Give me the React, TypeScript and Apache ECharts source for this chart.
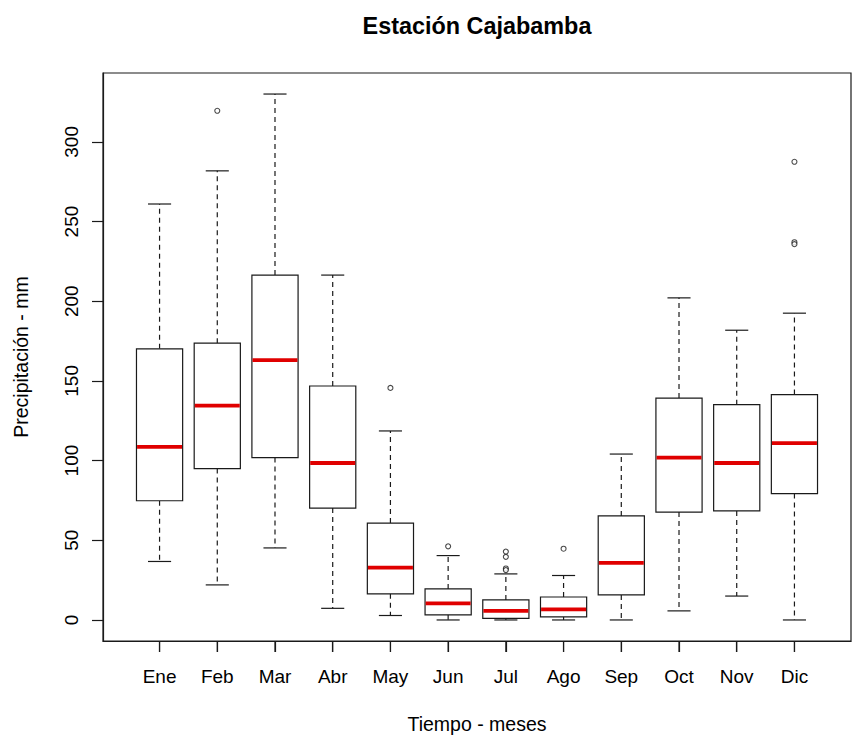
import React, { useEffect, useRef } from 'react';
import * as echarts from 'echarts';

const months = ['Ene', 'Feb', 'Mar', 'Abr', 'May', 'Jun', 'Jul', 'Ago', 'Sep', 'Oct', 'Nov', 'Dic'];
const whiskerLow = [36.7, 22.0, 45.2, 7.3, 2.8, 0, 0, 0, 0, 5.7, 15.0, 0];
const q1 = [74.8, 95.0, 101.9, 70.2, 16.4, 3.2, 1.0, 1.9, 15.7, 67.7, 68.4, 79.3];
const median = [108.6, 134.5, 163.0, 98.5, 32.9, 10.4, 5.7, 6.6, 35.8, 101.9, 98.5, 111.0];
const q3 = [170.1, 173.7, 216.4, 146.8, 60.8, 19.5, 12.6, 14.4, 65.3, 139.2, 135.1, 141.4];
const whiskerHigh = [261.0, 281.8, 330.0, 216.4, 118.6, 40.4, 28.9, 27.9, 104.1, 202.1, 181.8, 192.5];

const outlierMonth = [2, 5, 6, 7, 7, 7, 7, 8, 12, 12, 12];
const outlierValue = [319.5, 145.6, 46.2, 42.9, 39.6, 32.3, 31.3, 44.7, 287.5, 237.0, 235.8];

const yTicks = [0, 50, 100, 150, 200, 250, 300];
const xTicks = [1, 2, 3, 4, 5, 6, 7, 8, 9, 10, 11, 12];
const Y_MIN = -13.2;
const Y_MAX = 343.2;

const FONT = 'Liberation Sans, Arial, sans-serif';

export default function App() {
  const ref = useRef<HTMLDivElement>(null);
  useEffect(() => {
    const chart = echarts.init(ref.current as HTMLDivElement, null, { renderer: 'svg' });
    const boxData = months.map((_, i) => [i + 1, whiskerLow[i], q1[i], median[i], q3[i], whiskerHigh[i]]);
    const outlierData = outlierMonth.map((m, i) => [m, outlierValue[i]]);
    const stroke = '#1a1a1a';
    const titleGraphic = {
      type: 'text',
      id: 'title',
      x: 477,
      y: 26,
      z: 100,
      style: {
        text: 'Estación Cajabamba',
        align: 'center',
        verticalAlign: 'middle',
        fontFamily: FONT,
        fontWeight: 'bold',
        fontSize: 23.4,
        fill: '#000',
      },
    };
    chart.setOption({
      animation: false,
      textStyle: { fontFamily: FONT },
      graphic: [titleGraphic],
      grid: {
        left: 103,
        right: 2,
        top: 73,
        bottom: 97,
        show: true,
        borderColor: stroke,
        borderWidth: 1.2,
        containLabel: false,
        outerBoundsMode: 'none',
      },
      xAxis: {
        type: 'value',
        min: 0.02,
        max: 12.98,
        z: 50,
        name: 'Tiempo - meses',
        nameLocation: 'middle',
        nameGap: 73,
        nameTextStyle: { fontFamily: FONT, fontSize: 19.5, color: '#000' },
        axisLine: { show: true, onZero: false, lineStyle: { color: stroke, width: 1.2 } },
        splitLine: { show: false },
        axisTick: { show: true, length: 11, customValues: xTicks, lineStyle: { color: stroke, width: 1.2 } },
        axisLabel: {
          show: true,
          customValues: xTicks,
          margin: 26,
          fontFamily: FONT,
          fontSize: 19,
          color: '#000',
          formatter: (v: number) => months[Math.round(v) - 1] ?? '',
        },
      },
      yAxis: {
        type: 'value',
        min: Y_MIN,
        max: Y_MAX,
        name: 'Precipitación - mm',
        nameLocation: 'middle',
        nameGap: 72,
        nameTextStyle: { fontFamily: FONT, fontSize: 19.5, color: '#000' },
        axisLine: { show: true, onZero: false, lineStyle: { color: stroke, width: 1.2 } },
        splitLine: { show: false },
        axisTick: {
          show: true,
          length: 11,
          customValues: yTicks,
          lineStyle: { color: stroke, width: 1.2 },
        },
        axisLabel: {
          show: true,
          customValues: yTicks,
          rotate: 90,
          margin: 22,
          fontFamily: FONT,
          fontSize: 19,
          color: '#000',
        },
      },
      series: [
        {
          type: 'custom',
          name: 'box',
          data: boxData,
          encode: { x: 0, y: [1, 2, 3, 4, 5] },
          renderItem: (params: any, api: any) => {
            const xv = api.value(0);
            const pMin = api.coord([xv, api.value(1)]);
            const pQ1 = api.coord([xv, api.value(2)]);
            const pMed = api.coord([xv, api.value(3)]);
            const pQ3 = api.coord([xv, api.value(4)]);
            const pMax = api.coord([xv, api.value(5)]);
            const half = api.size([0.4, 0])[0];
            const cap = api.size([0.2, 0])[0];
            const cx = pMed[0];
            const dashStyle = { stroke, lineWidth: 1.2, lineDash: [5, 4] };
            const solid = { stroke, lineWidth: 1.2 };
            return {
              type: 'group',
              children: [
                { type: 'line', shape: { x1: cx, y1: pQ3[1], x2: cx, y2: pMax[1] }, style: dashStyle },
                { type: 'line', shape: { x1: cx, y1: pQ1[1], x2: cx, y2: pMin[1] }, style: dashStyle },
                { type: 'line', shape: { x1: cx - cap, y1: pMax[1], x2: cx + cap, y2: pMax[1] }, style: solid },
                { type: 'line', shape: { x1: cx - cap, y1: pMin[1], x2: cx + cap, y2: pMin[1] }, style: solid },
                {
                  type: 'rect',
                  shape: { x: cx - half, y: pQ3[1], width: 2 * half, height: pQ1[1] - pQ3[1] },
                  style: { fill: '#ffffff', stroke, lineWidth: 1.2 },
                },
                {
                  type: 'line',
                  shape: { x1: cx - half + 0.6, y1: pMed[1], x2: cx + half - 0.6, y2: pMed[1] },
                  style: { stroke: '#e00000', lineWidth: 3.8 },
                },
              ],
            };
          },
        },
        {
          type: 'scatter',
          name: 'outliers',
          data: outlierData,
          symbol: 'circle',
          symbolSize: 5,
          itemStyle: { color: '#ffffff', borderColor: stroke, borderWidth: 1.1 },
          z: 5,
        },
      ],
    });
    // x-axis ticks placed through the library's own scale
    const tickGraphics = xTicks.map((v, i) => {
      const p = chart.convertToPixel({ gridIndex: 0 }, [v, Y_MIN]) as number[];
      return {
        type: 'line',
        id: 'xtick' + i,
        z: 100,
        silent: true,
        shape: { x1: p[0], y1: p[1], x2: p[0], y2: p[1] + 11 },
        style: { stroke, lineWidth: 1.2 },
      };
    });
    chart.setOption({ graphic: [titleGraphic, ...tickGraphics] });
    return () => chart.dispose();
  }, []);
  return (
    <div
      ref={ref}
      style={{ position: 'fixed', left: 0, top: 0, width: 853, height: 738, background: '#fff' }}
    />
  );
}
